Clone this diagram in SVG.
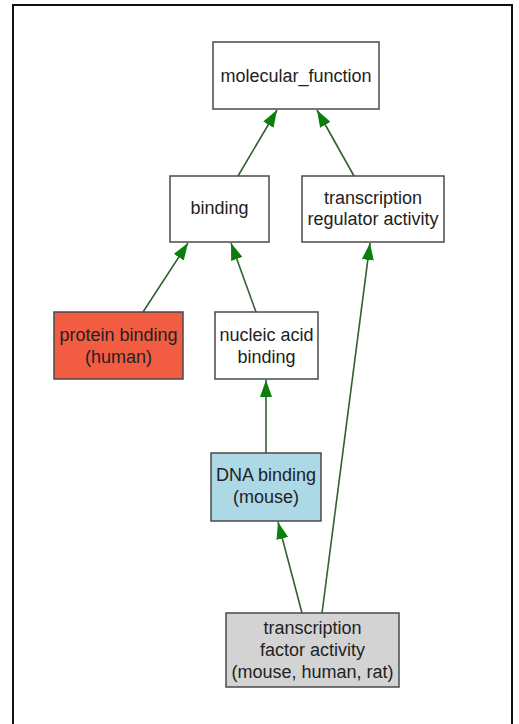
<svg xmlns="http://www.w3.org/2000/svg" width="519" height="724" viewBox="0 0 519 724">
<defs>
<style>
.box{stroke:#4a4a4a;stroke-width:1.5}
.t{font-family:"Liberation Sans",Arial,sans-serif;font-size:18px;fill:#222;text-anchor:middle}
.e{stroke:#355e35;stroke-width:1.6;fill:none}
</style>
<marker id="ah" viewBox="0 0 17 12" refX="17" refY="6" markerWidth="17" markerHeight="12" markerUnits="userSpaceOnUse" orient="auto">
<path d="M0,0 L17,6 L0,12 Z" fill="#0b7f0b"/>
</marker>
</defs>
<rect x="0" y="0" width="519" height="724" fill="#fff"/>
<rect x="13" y="5" width="499" height="730" fill="none" stroke="#111" stroke-width="2"/>
<g id="connectors">
<line class="e" x1="238" y1="176" x2="277" y2="110" marker-end="url(#ah)"/>
<line class="e" x1="354" y1="176" x2="317" y2="110" marker-end="url(#ah)"/>
<line class="e" x1="143" y1="312" x2="188" y2="243" marker-end="url(#ah)"/>
<line class="e" x1="256" y1="312" x2="231" y2="243" marker-end="url(#ah)"/>
<line class="e" x1="266" y1="453" x2="266" y2="380" marker-end="url(#ah)"/>
<line class="e" x1="302" y1="613" x2="278" y2="522" marker-end="url(#ah)"/>
<line class="e" x1="322" y1="613" x2="370" y2="243" marker-end="url(#ah)"/>
</g>
<g id="molecular_function">
<rect class="box" x="213" y="42" width="166" height="67" fill="#fff"/>
<text class="t" x="296" y="82">molecular_function</text>
</g>
<g id="binding">
<rect class="box" x="170" y="176" width="99" height="66" fill="#fff"/>
<text class="t" x="219.5" y="214">binding</text>
</g>
<g id="transcription_regulator_activity">
<rect class="box" x="302" y="176" width="142" height="66" fill="#fff"/>
<text class="t" x="373" y="204">transcription</text>
<text class="t" x="373" y="225">regulator activity</text>
</g>
<g id="protein_binding">
<rect class="box" x="54" y="312" width="129" height="67" fill="#f25c42"/>
<text class="t" x="118.5" y="341">protein binding</text>
<text class="t" x="118.5" y="363">(human)</text>
</g>
<g id="nucleic_acid_binding">
<rect class="box" x="215" y="312" width="103" height="67" fill="#fff"/>
<text class="t" x="266.5" y="341">nucleic acid</text>
<text class="t" x="266.5" y="363">binding</text>
</g>
<g id="dna_binding">
<rect class="box" x="211" y="453" width="110" height="68" fill="#add8e6"/>
<text class="t" x="266" y="481">DNA binding</text>
<text class="t" x="266" y="503">(mouse)</text>
</g>
<g id="transcription_factor_activity">
<rect class="box" x="226" y="613" width="173" height="74" fill="#d3d3d3"/>
<text class="t" x="312.5" y="634">transcription</text>
<text class="t" x="312.5" y="656">factor activity</text>
<text class="t" x="312.5" y="678">(mouse, human, rat)</text>
</g>
</svg>
